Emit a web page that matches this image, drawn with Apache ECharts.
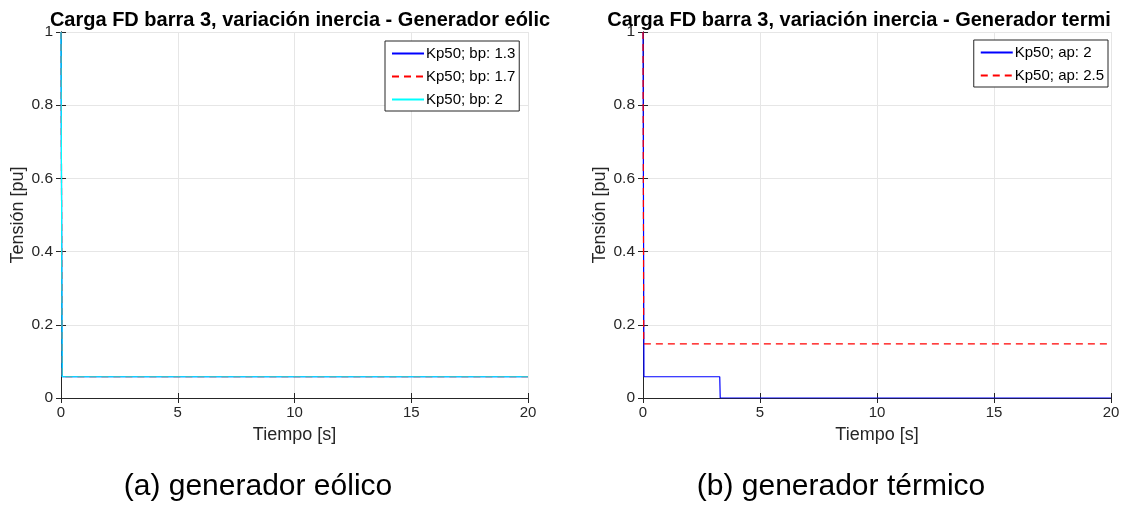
<!DOCTYPE html>
<html>
<head>
<meta charset="utf-8">
<script src="https://cdn.jsdelivr.net/npm/echarts@6/dist/echarts.min.js"></script>
<style>
  html, body { margin: 0; padding: 0; background: #ffffff; }
  #chart { width: 1141px; height: 505px; }
</style>
</head>
<body>
<div id="chart"></div>
<script>
// Panel titles and captions
const titles = [
  'Carga FD barra 3, variación inercia - Generador eólic',
  'Carga FD barra 3, variación inercia - Generador termi'
];
const captions = ['(a) generador eólico', '(b) generador térmico'];

// Axis ticks
const xTicks = [0, 5, 10, 15, 20];
const yTicks = [0, 0.2, 0.4, 0.6, 0.8, 1];

// (a) wind generator: voltage [pu] vs time [s]
const windTime = [0, 0.05, 20];
const windBp13 = [1, 0.058, 0.058];
const windBp17 = [1, 0.058, 0.058];
const windBp2  = [1, 0.058, 0.058];

// (b) thermal generator
const thermTimeAp2 = [0, 0.04, 3.28, 3.3, 20];
const thermAp2     = [1, 0.058, 0.058, 0, 0];
const thermTimeAp25 = [0, 0.03, 20];
const thermAp25     = [1, 0.148, 0.148];

const pair = (t, v) => t.map((x, i) => [x, v[i]]);

const chart = echarts.init(document.getElementById('chart'), null, { renderer: 'canvas' });

const FONT = "'Liberation Sans', Arial, sans-serif";
const grids = [
  { left: 61, top: 32, width: 467, height: 366 },
  { left: 643, top: 32, width: 468, height: 366 }
];

function xAxis(i) {
  return {
    gridIndex: i, type: 'value', min: xTicks[0], max: xTicks[xTicks.length - 1], interval: 5,
    name: 'Tiempo [s]', nameLocation: 'middle', nameGap: 28,
    nameTextStyle: { fontFamily: FONT, fontSize: 18, color: '#262626' },
    axisLine: { show: true, onZero: false, lineStyle: { color: '#262626', width: 1 } },
    axisTick: { show: true, inside: true, length: 5, lineStyle: { color: '#262626' } },
    axisLabel: { fontFamily: FONT, fontSize: 15, color: '#262626', margin: 7 },
    splitLine: { show: true, lineStyle: { color: '#e6e6e6', width: 1 } }
  };
}
function xAxisTop(i) {
  return {
    gridIndex: i, type: 'value', min: 0, max: 20, interval: 5, position: 'top',
    axisLine: { show: true, lineStyle: { color: '#262626', width: 1 } },
    axisTick: { show: true, inside: true, length: 5, lineStyle: { color: '#262626' } },
    axisLabel: { show: false }, splitLine: { show: false }
  };
}
function yAxis(i) {
  return {
    gridIndex: i, type: 'value', min: yTicks[0], max: yTicks[yTicks.length - 1], interval: 0.2,
    name: 'Tensión [pu]', nameLocation: 'middle', nameGap: 34, nameRotate: 90,
    nameTextStyle: { fontFamily: FONT, fontSize: 18, color: '#262626' },
    axisLine: { show: true, onZero: false, lineStyle: { color: '#262626', width: 1 } },
    axisTick: { show: true, inside: true, length: 5, lineStyle: { color: '#262626' } },
    axisLabel: { fontFamily: FONT, fontSize: 15.5, color: '#262626', margin: 8,
      formatter: v => String(Math.round(v * 10) / 10) },
    splitLine: { show: true, lineStyle: { color: '#e6e6e6', width: 1 } }
  };
}
function yAxisRight(i) {
  return {
    gridIndex: i, type: 'value', min: 0, max: 1, interval: 0.2, position: 'right',
    axisLine: { show: true, lineStyle: { color: '#262626', width: 1 } },
    axisTick: { show: true, inside: true, length: 5, lineStyle: { color: '#262626' } },
    axisLabel: { show: false }, splitLine: { show: false }
  };
}

function line(name, xi, data, color, dashed) {
  return {
    name, type: 'line', xAxisIndex: xi, yAxisIndex: xi, data,
    symbol: 'none', showSymbol: false, animation: false,
    lineStyle: { color, width: 1.2, type: dashed ? [7, 5] : 'solid' },
    itemStyle: { color }
  };
}

const legendBase = {
  orient: 'vertical', backgroundColor: '#ffffff',
  borderColor: '#262626', borderWidth: 1, borderRadius: 0,
  padding: [5, 4, 4, 6], itemGap: 8, itemWidth: 32, itemHeight: 14,
  itemStyle: { opacity: 0 },
  textStyle: { fontFamily: FONT, fontSize: 15, color: '#000', padding: [0, 0, 0, -3] },
  selectedMode: false
};

chart.setOption({
  animation: false,
  grid: grids,
  title: [
    { text: titles[0], left: 295, top: 5, textAlign: 'center',
      textStyle: { fontFamily: FONT, fontSize: 20, fontWeight: 'bold', color: '#000' } },
    { text: titles[1], left: 854, top: 5, textAlign: 'center',
      textStyle: { fontFamily: FONT, fontSize: 20, fontWeight: 'bold', color: '#000' } },
    { text: captions[0], left: 253, top: 467, textAlign: 'center',
      textStyle: { fontFamily: FONT, fontSize: 30, fontWeight: 'normal', color: '#000' } },
    { text: captions[1], left: 836, top: 467, textAlign: 'center',
      textStyle: { fontFamily: FONT, fontSize: 30, fontWeight: 'normal', color: '#000' } }
  ],
  legend: [
    Object.assign({}, legendBase, { left: 385, top: 41,
      data: ['Kp50; bp: 1.3', 'Kp50; bp: 1.7', 'Kp50; bp: 2'] }),
    Object.assign({}, legendBase, { right: 1141 - 1108, top: 40,
      data: ['Kp50; ap: 2', 'Kp50; ap: 2.5'] })
  ],
  xAxis: [xAxis(0), xAxis(1), xAxisTop(0), xAxisTop(1)],
  yAxis: [yAxis(0), yAxis(1), yAxisRight(0), yAxisRight(1)],
  series: [
    line('Kp50; bp: 1.3', 0, pair(windTime, windBp13), '#0000ff', false),
    line('Kp50; bp: 1.7', 0, pair(windTime, windBp17), '#ff0000', true),
    line('Kp50; bp: 2',   0, pair(windTime, windBp2),  '#00ffff', false),
    line('Kp50; ap: 2',   1, pair(thermTimeAp2, thermAp2), '#0000ff', false),
    line('Kp50; ap: 2.5', 1, pair(thermTimeAp25, thermAp25), '#ff0000', true)
  ]
});
</script>
</body>
</html>
